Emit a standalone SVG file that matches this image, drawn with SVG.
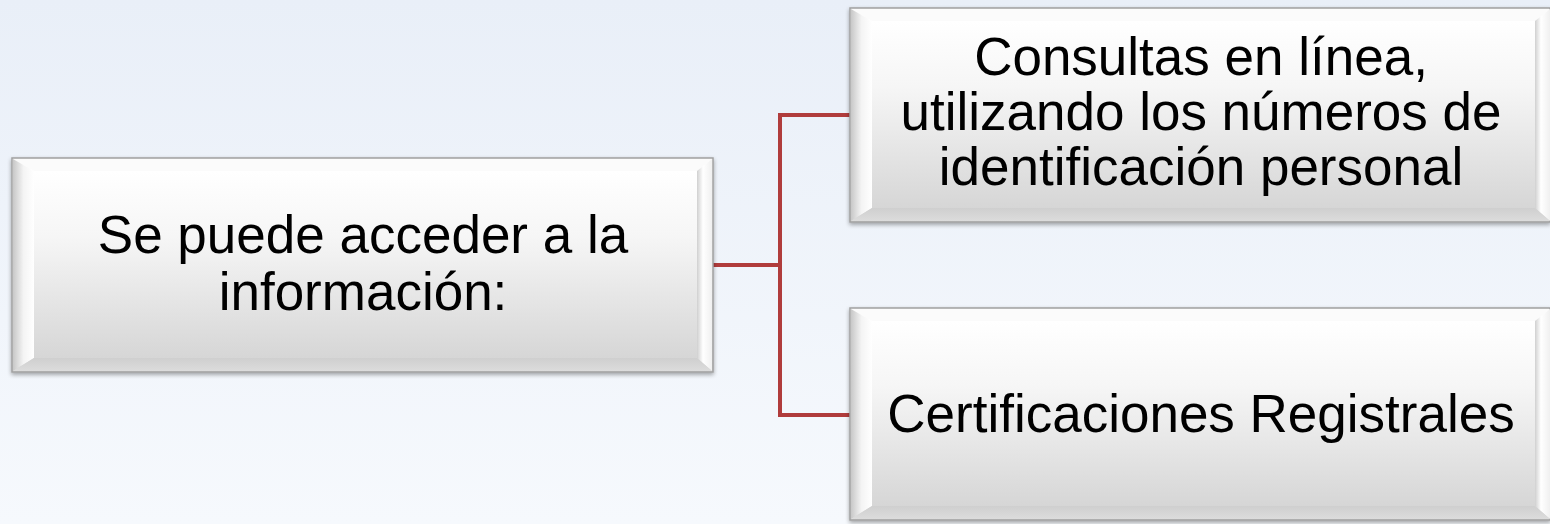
<svg xmlns="http://www.w3.org/2000/svg" width="1550" height="524" viewBox="0 0 1550 524">
  <defs>
    <linearGradient id="bg" x1="0" y1="0" x2="0" y2="1">
      <stop offset="0" stop-color="#e9eff8"/>
      <stop offset="1" stop-color="#f6f9fd"/>
    </linearGradient>
    <linearGradient id="face" x1="0" y1="0" x2="0" y2="1">
      <stop offset="0" stop-color="#ffffff"/>
      <stop offset="0.35" stop-color="#f6f6f6"/>
      <stop offset="1" stop-color="#d6d6d6"/>
    </linearGradient>
    <linearGradient id="leftBevel" x1="0" y1="0" x2="1" y2="0">
      <stop offset="0" stop-color="#c8c8c8"/>
      <stop offset="0.5" stop-color="#f4f4f4"/>
      <stop offset="1" stop-color="#ffffff"/>
    </linearGradient>
    <linearGradient id="rightBevel" x1="0" y1="0" x2="1" y2="0">
      <stop offset="0" stop-color="#d0d0d0"/>
      <stop offset="0.4" stop-color="#ffffff"/>
      <stop offset="1" stop-color="#f0f0f0"/>
    </linearGradient>
    <linearGradient id="bottomBevel" x1="0" y1="0" x2="0" y2="1">
      <stop offset="0" stop-color="#cfcfcf"/>
      <stop offset="1" stop-color="#dcdcdc"/>
    </linearGradient>
    <filter id="shadow" x="-5%" y="-5%" width="110%" height="115%">
      <feGaussianBlur in="SourceAlpha" stdDeviation="2"/>
      <feOffset dx="0" dy="2"/>
      <feComponentTransfer><feFuncA type="linear" slope="0.35"/></feComponentTransfer>
      <feMerge><feMergeNode/><feMergeNode in="SourceGraphic"/></feMerge>
    </filter>
  </defs>
  <style>
    .frame { stroke: #a0a0a0; stroke-width: 1.5; fill: url(#face); }
    .bt { fill: #fbfbfb; }
    .bl { fill: url(#leftBevel); }
    .br { fill: url(#rightBevel); }
    .bb { fill: url(#bottomBevel); }
    .lbl { font-family: "Liberation Sans", Arial, sans-serif; font-size: 53px; fill: #000000; text-anchor: middle; }
    .conn { fill: none; stroke: #b03c3c; stroke-width: 4; }
  </style>

  <rect x="0" y="0" width="1550" height="524" fill="url(#bg)"/>

  <g id="connectors">
    <path class="conn" d="M713,265 H780"/>
    <path class="conn" d="M850,115 H780 V415 H850"/>
  </g>

  <g id="node-main" filter="url(#shadow)">
    <rect class="frame" x="12" y="158" width="701" height="214"/>
    <polygon class="bt" points="13,159 712,159 697,171 34,171"/>
    <polygon class="bl" points="13,159 34,171 34,358 13,371"/>
    <polygon class="br" points="712,159 712,371 697,358 697,171"/>
    <polygon class="bb" points="13,371 34,358 697,358 712,371"/>
    <rect x="34" y="171" width="663" height="187" fill="url(#face)"/>
    <text class="lbl" x="363" y="253">Se puede acceder a la</text>
    <text class="lbl" x="363" y="310">información:</text>
  </g>

  <g id="node-consultas" filter="url(#shadow)">
    <rect class="frame" x="850" y="8" width="700" height="214"/>
    <polygon class="bt" points="851,9 1550,9 1535,21 872,21"/>
    <polygon class="bl" points="851,9 872,21 872,208 851,221"/>
    <polygon class="br" points="1550,9 1550,221 1535,208 1535,21"/>
    <polygon class="bb" points="851,221 872,208 1535,208 1550,221"/>
    <rect x="872" y="21" width="663" height="187" fill="url(#face)"/>
    <text class="lbl" x="1201" y="75">Consultas en línea,</text>
    <text class="lbl" x="1201" y="130">utilizando los números de</text>
    <text class="lbl" x="1201" y="185">identificación personal</text>
  </g>

  <g id="node-certificaciones" filter="url(#shadow)">
    <rect class="frame" x="850" y="308" width="700" height="212"/>
    <polygon class="bt" points="851,309 1550,309 1535,321 872,321"/>
    <polygon class="bl" points="851,309 872,321 872,506 851,519"/>
    <polygon class="br" points="1550,309 1550,519 1535,506 1535,321"/>
    <polygon class="bb" points="851,519 872,506 1535,506 1550,519"/>
    <rect x="872" y="321" width="663" height="185" fill="url(#face)"/>
    <text class="lbl" x="1201" y="432">Certificaciones Registrales</text>
  </g>
</svg>
